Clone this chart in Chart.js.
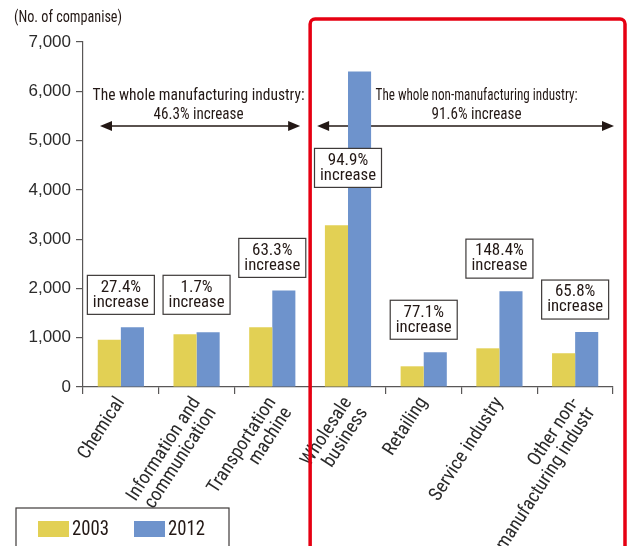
<!DOCTYPE html>
<html>
<head>
<meta charset="utf-8">
<script src="https://cdn.jsdelivr.net/npm/chart.js@4"></script>
<style>
  html, body { margin: 0; padding: 0; background: #fff; }
  #wrap { width: 629px; height: 546px; position: relative; }
</style>
</head>
<body>
<div id="wrap"><canvas id="companyChart" width="629" height="546"></canvas></div>
<script>
// data
const categories = [
  ['Chemical'],
  ['Information and', 'communication'],
  ['Transportation', 'machine'],
  ['Wholesale', 'business'],
  ['Retailing'],
  ['Service industry'],
  ['Other non-', 'manufacturing industr']
];
const years = ['2003', '2012'];
const values2003 = [960, 1070, 1210, 3280, 420, 785, 685];
const values2012 = [1210, 1110, 1960, 6400, 705, 1945, 1115];
const increases = ['27.4%', '1.7%', '63.3%', '94.9%', '77.1%', '148.4%', '65.8%'];
const yTicks = [0, 1000, 2000, 3000, 4000, 5000, 6000, 7000];

const INK = '#231815';
const COND = '"Roboto Condensed", "DejaVu Sans Condensed", sans-serif';
const SANS = '"Liberation Sans", Arial, sans-serif';

function arrow(ctx, x1, x2, y) {
  ctx.strokeStyle = INK;
  ctx.fillStyle = INK;
  ctx.lineWidth = 1.5;
  ctx.beginPath();
  ctx.moveTo(x1 + 8, y);
  ctx.lineTo(x2 - 8, y);
  ctx.stroke();
  ctx.beginPath();
  ctx.moveTo(x1, y); ctx.lineTo(x1 + 12, y - 5); ctx.lineTo(x1 + 12, y + 5); ctx.closePath();
  ctx.fill();
  ctx.beginPath();
  ctx.moveTo(x2, y); ctx.lineTo(x2 - 12, y - 5); ctx.lineTo(x2 - 12, y + 5); ctx.closePath();
  ctx.fill();
}

// arrows, group captions, frame, axis title, legend
const decorations = {
  id: 'decorations',
  beforeDatasetsDraw(chart) {
    const ctx = chart.ctx;
    const x = chart.scales.x;
    const area = chart.chartArea;
    const split = (x.getPixelForValue(2) + x.getPixelForValue(3)) / 2;
    ctx.save();
    ctx.font = '17px ' + COND;
    ctx.fillStyle = INK;
    ctx.textAlign = 'center';
    ctx.textBaseline = 'middle';
    const lx = (area.left + split) / 2 + 2;
    const rx = (split + area.right) / 2 + 15;
    ctx.fillText('The whole manufacturing industry:', lx, 96, 212);
    ctx.fillText('46.3% increase', lx, 115, 90);
    ctx.fillText('The whole non-manufacturing industry:', rx, 96, 202);
    ctx.fillText('91.6% increase', rx, 115, 90);
    arrow(ctx, area.left + 17, split - 10, 126);
    arrow(ctx, split + 7, area.right + 1, 126);
    ctx.restore();
  },
  afterDatasetsDraw(chart) {
    const ctx = chart.ctx;
    const x = chart.scales.x;
    const y = chart.scales.y;
    const opts = chart.options.plugins.decorations;
    ctx.save();
    ctx.font = '17px ' + COND;
    ctx.textAlign = 'center';
    ctx.textBaseline = 'middle';
    increases.forEach((txt, i) => {
      const cx = x.getPixelForValue(i);
      const top = Math.max(values2003[i], values2012[i]);
      let bottom = y.getPixelForValue(top) - 13;
      if (opts.pinned[i] !== undefined) bottom = y.getPixelForValue(opts.pinned[i]);
      const w = 67, h = 39;
      ctx.fillStyle = '#fff';
      ctx.fillRect(cx - w / 2, bottom - h, w, h);
      ctx.strokeStyle = '#3e3a39';
      ctx.lineWidth = 1.2;
      ctx.strokeRect(cx - w / 2, bottom - h, w, h);
      ctx.fillStyle = INK;
      ctx.fillText(txt, cx, bottom - h + 12, 58);
      ctx.fillText('increase', cx, bottom - h + 27, 56);
    });
    ctx.restore();
  },
  afterDraw(chart) {
    const ctx = chart.ctx;
    const x = chart.scales.x;
    const area = chart.chartArea;
    const split = (x.getPixelForValue(2) + x.getPixelForValue(3)) / 2;
    ctx.save();
    // red frame
    ctx.strokeStyle = '#e60012';
    ctx.lineWidth = 3.5;
    const fx = split, fy = 19, fw = area.right + 12 - split, fh = 560, r = 5;
    ctx.beginPath();
    ctx.moveTo(fx + r, fy);
    ctx.lineTo(fx + fw - r, fy);
    ctx.arcTo(fx + fw, fy, fx + fw, fy + r, r);
    ctx.lineTo(fx + fw, fy + fh);
    ctx.moveTo(fx, fy + fh);
    ctx.lineTo(fx, fy + r);
    ctx.arcTo(fx, fy, fx + r, fy, r);
    ctx.stroke();

    // axis title
    ctx.font = '16px ' + COND;
    ctx.fillStyle = INK;
    ctx.textAlign = 'left';
    ctx.textBaseline = 'middle';
    ctx.fillText('(No. of companise)', 14, 18, 108);

    // legend
    ctx.strokeStyle = '#3e3a39';
    ctx.lineWidth = 1.2;
    ctx.strokeRect(16, 508, 213, 60);
    ctx.font = '20px ' + COND;
    chart.data.datasets.forEach((ds, i) => {
      const lx = 38 + i * 96;
      ctx.fillStyle = ds.backgroundColor;
      ctx.fillRect(lx, 521, 31, 16);
      ctx.fillStyle = INK;
      ctx.fillText(ds.label, lx + 34, 530, 37);
    });
    ctx.restore();
  }
};

new Chart(document.getElementById('companyChart').getContext('2d'), {
  type: 'bar',
  data: {
    labels: categories,
    datasets: [
      { label: years[0], data: values2003, backgroundColor: '#e2d054' },
      { label: years[1], data: values2012, backgroundColor: '#6e93cc' }
    ]
  },
  options: {
    responsive: false,
    animation: false,
    layout: { padding: { left: 0, right: 16, top: 42, bottom: 0 } },
    datasets: { bar: { categoryPercentage: 0.61, barPercentage: 1.0 } },
    plugins: {
      legend: { display: false },
      tooltip: { enabled: false },
      decorations: { pinned: { 1: 1475, 3: 4050 } }
    },
    scales: {
      y: {
        min: 0,
        max: 7000,
        afterBuildTicks: s => { s.ticks = yTicks.map(v => ({ value: v })); },
        afterFit: s => { s.width = 83; },
        border: { color: '#595757', width: 1.2 },
        grid: { drawOnChartArea: false, tickLength: 7, color: '#595757', lineWidth: 1.2 },
        ticks: {
          color: '#2b2b2b',
          padding: 5,
          font: { family: SANS, size: 17 },
          callback: v => v.toLocaleString('en-US')
        }
      },
      x: {
        afterFit: s => { s.height = 159; },
        border: { color: '#595757', width: 1.2 },
        grid: { drawOnChartArea: false, tickLength: 7, color: '#595757', lineWidth: 1.2, offset: true },
        ticks: {
          color: '#2b2b2b',
          maxRotation: 57,
          minRotation: 57,
          padding: 0,
          font: { family: COND, size: 19, lineHeight: 1.0 }
        }
      }
    }
  },
  plugins: [decorations]
});
</script>
</body>
</html>
